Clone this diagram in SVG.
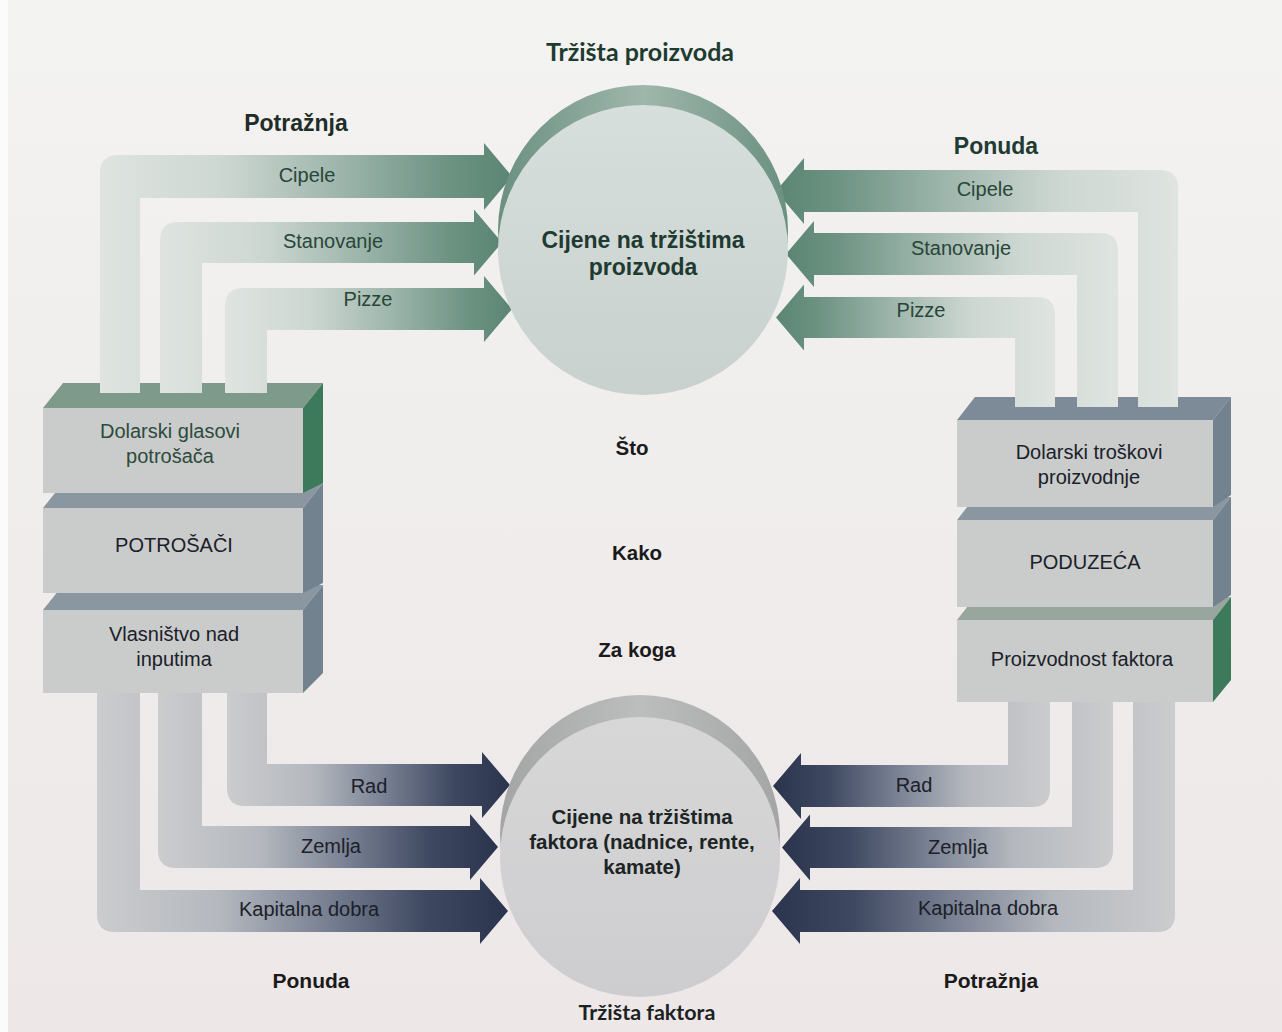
<svg xmlns="http://www.w3.org/2000/svg" width="1282" height="1032" viewBox="0 0 1282 1032">
<defs>
<linearGradient id="bg" x1="0" y1="0" x2="0" y2="1">
<stop offset="0" stop-color="#f3f3f1"/><stop offset="1" stop-color="#ede7e8"/>
</linearGradient>
<linearGradient id="gR" x1="0" y1="0" x2="1" y2="0">
<stop offset="0" stop-color="#dfe4e1"/><stop offset="0.3" stop-color="#cdd7d2"/><stop offset="0.6" stop-color="#9ab3a8"/><stop offset="0.85" stop-color="#6c9282"/><stop offset="1" stop-color="#5b8573"/>
</linearGradient>
<linearGradient id="gL" x1="1" y1="0" x2="0" y2="0">
<stop offset="0" stop-color="#dfe4e1"/><stop offset="0.3" stop-color="#cdd7d2"/><stop offset="0.6" stop-color="#9ab3a8"/><stop offset="0.85" stop-color="#6c9282"/><stop offset="1" stop-color="#5b8573"/>
</linearGradient>
<linearGradient id="nR" x1="0" y1="0" x2="1" y2="0">
<stop offset="0" stop-color="#cbccce"/><stop offset="0.3" stop-color="#b4b8be"/><stop offset="0.55" stop-color="#7a8294"/><stop offset="0.8" stop-color="#3e4860"/><stop offset="1" stop-color="#2a344c"/>
</linearGradient>
<linearGradient id="nL" x1="1" y1="0" x2="0" y2="0">
<stop offset="0" stop-color="#cbccce"/><stop offset="0.3" stop-color="#b4b8be"/><stop offset="0.55" stop-color="#7a8294"/><stop offset="0.8" stop-color="#3e4860"/><stop offset="1" stop-color="#2a344c"/>
</linearGradient>
<linearGradient id="rimG" x1="0" y1="0" x2="1" y2="0">
<stop offset="0" stop-color="#6a9080"/><stop offset="0.5" stop-color="#9fb6ab"/><stop offset="1" stop-color="#6a9080"/>
</linearGradient>
<linearGradient id="faceG" x1="0" y1="0" x2="0" y2="1">
<stop offset="0" stop-color="#d6dfdb"/><stop offset="1" stop-color="#c9d1ce"/>
</linearGradient>
<linearGradient id="rimN" x1="0" y1="0" x2="1" y2="0">
<stop offset="0" stop-color="#a3a6a5"/><stop offset="0.5" stop-color="#bcbebd"/><stop offset="1" stop-color="#a3a6a5"/>
</linearGradient>
<linearGradient id="faceN" x1="0" y1="0" x2="0" y2="1">
<stop offset="0" stop-color="#d7d7d8"/><stop offset="1" stop-color="#cdcdcf"/>
</linearGradient>
</defs>
<style>
.lbl{font-family:"Liberation Sans",Arial,sans-serif;font-size:20px;text-anchor:middle}
.bld{font-family:"Liberation Sans",Arial,sans-serif;font-weight:bold;text-anchor:middle}
.ttl{font-family:Lato,"Liberation Sans",sans-serif;font-weight:bold;font-size:25px;text-anchor:middle}
.gtx{fill:#284638}
.ntx{fill:#1b2029}
.front{fill:#c9cccb}
.topG{fill:#7e9a8b}.sideG{fill:#3d7a5c}
.topB{fill:#8a96a0}.sideB{fill:#72828f}
</style>
<rect x="0" y="0" width="1282" height="1032" fill="url(#bg)"/>
<rect x="0" y="0" width="8" height="1032" fill="#fbfbfb"/>

<g id="potrosaci">
<g id="block-vlasnistvo">
<polygon class="topB" points="43,610 63,585 323,585 303,610"/>
<polygon class="sideB" points="303,610 323,585 323,673 303,693"/>
<rect class="front" x="43" y="610" width="260" height="83"/>
<text class="lbl ntx" x="174" y="641">Vlasništvo nad</text>
<text class="lbl ntx" x="174" y="666">inputima</text>
</g>
<g id="block-potrosaci">
<polygon class="topB" points="43,508 63,483 323,483 303,508"/>
<polygon class="sideB" points="303,508 323,483 323,583 303,593"/>
<rect class="front" x="43" y="508" width="260" height="85"/>
<text class="lbl ntx" x="174" y="552">POTROŠAČI</text>
</g>
<g id="block-dolarski-glasovi">
<polygon class="topG" points="43,408 63,383 323,383 303,408"/>
<polygon class="sideG" points="303,408 323,383 323,483 303,493"/>
<rect class="front" x="43" y="408" width="260" height="85" fill="#c6ccc9"/>
<text class="lbl" fill="#2e4a3c" x="170" y="438">Dolarski glasovi</text>
<text class="lbl" fill="#2e4a3c" x="170" y="463">potrošača</text>
</g>
</g>

<g id="poduzeca">
<g id="block-proizvodnost">
<polygon fill="#98a69e" points="957,620 975,597 1231,597 1213,620"/>
<polygon class="sideG" points="1213,620 1231,597 1231,680 1213,702"/>
<rect class="front" x="957" y="620" width="256" height="82"/>
<text class="lbl ntx" x="1082" y="666">Proizvodnost faktora</text>
</g>
<g id="block-poduzeca">
<polygon class="topB" points="957,520 975,497 1231,497 1213,520"/>
<polygon class="sideB" points="1213,520 1231,497 1231,595 1213,607"/>
<rect class="front" x="957" y="520" width="256" height="87" fill="#ccd0d0"/>
<text class="lbl ntx" x="1085" y="569">PODUZEĆA</text>
</g>
<g id="block-dolarski-troskovi">
<polygon fill="#7d8a97" points="957,420 975,397 1231,397 1213,420"/>
<polygon class="sideB" points="1213,420 1231,397 1231,495 1213,507"/>
<rect class="front" x="957" y="420" width="256" height="87" fill="#ccd1d3"/>
<text class="lbl ntx" x="1089" y="459">Dolarski troškovi</text>
<text class="lbl ntx" x="1089" y="484">proizvodnje</text>
</g>
</g>

<g id="connectors">
<path id="c-cipele-d" fill="url(#gR)" d="M100,393 L100,173 Q100,155 118,155 L484,155 L484,143 L512,176.5 L484,210 L484,198 L140,198 L140,393 Z"/>
<path id="c-stanovanje-d" fill="url(#gR)" d="M160,393 L160,240 Q160,222 178,222 L474,222 L474,209.5 L502,242.5 L474,275.5 L474,263 L202,263 L202,393 Z"/>
<path id="c-pizze-d" fill="url(#gR)" d="M225,393 L225,306 Q225,288 243,288 L484,288 L484,276 L512,309 L484,342 L484,330 L267,330 L267,393 Z"/>
<path id="c-cipele-s" fill="url(#gL)" d="M1178,407 L1178,188 Q1178,170 1160,170 L804,170 L804,158 L776,191 L804,224 L804,212 L1138,212 L1138,407 Z"/>
<path id="c-stanovanje-s" fill="url(#gL)" d="M1118,407 L1118,251 Q1118,233 1100,233 L814,233 L814,221 L786,254 L814,287 L814,275 L1077,275 L1077,407 Z"/>
<path id="c-pizze-s" fill="url(#gL)" d="M1055,407 L1055,315 Q1055,297 1037,297 L804,297 L804,284.5 L776,317.5 L804,350.5 L804,338 L1015,338 L1015,407 Z"/>
<path id="c-rad-s" fill="url(#nR)" d="M267,693 L267,764 L482,764 L482,752 L510,785 L482,818 L482,806 L245,806 Q227,806 227,788 L227,693 Z"/>
<path id="c-zemlja-s" fill="url(#nR)" d="M202,693 L202,826 L470,826 L470,814 L498,847 L470,880 L470,868 L176,868 Q158,868 158,850 L158,693 Z"/>
<path id="c-kapital-s" fill="url(#nR)" d="M140,693 L140,890 L480,890 L480,878 L508,911 L480,944 L480,932 L115,932 Q97,932 97,914 L97,693 Z"/>
<path id="c-rad-d" fill="url(#nL)" d="M1008,702 L1008,765 L801,765 L801,753 L773,786 L801,819 L801,807 L1032,807 Q1050,807 1050,789 L1050,702 Z"/>
<path id="c-zemlja-d" fill="url(#nL)" d="M1072,702 L1072,827 L810,827 L810,814.5 L782,847.5 L810,880.5 L810,868 L1095,868 Q1113,868 1113,850 L1113,702 Z"/>
<path id="c-kapital-d" fill="url(#nL)" d="M1133,702 L1133,890 L800,890 L800,878 L772,911 L800,944 L800,932 L1157,932 Q1175,932 1175,914 L1175,702 Z"/>
<text class="lbl gtx" x="307" y="182">Cipele</text>
<text class="lbl gtx" x="333" y="248">Stanovanje</text>
<text class="lbl gtx" x="368" y="306">Pizze</text>
<text class="lbl gtx" x="985" y="196">Cipele</text>
<text class="lbl gtx" x="961" y="255">Stanovanje</text>
<text class="lbl gtx" x="921" y="317">Pizze</text>
<text class="lbl ntx" x="369" y="793">Rad</text>
<text class="lbl ntx" x="331" y="853">Zemlja</text>
<text class="lbl ntx" x="309" y="916">Kapitalna dobra</text>
<text class="lbl ntx" x="914" y="792">Rad</text>
<text class="lbl ntx" x="958" y="854">Zemlja</text>
<text class="lbl ntx" x="988" y="915">Kapitalna dobra</text>
</g>

<g id="trzista-proizvoda">
<circle cx="643" cy="230" r="145" fill="url(#rimG)"/>
<circle cx="643" cy="250" r="145" fill="url(#faceG)"/>
<text class="bld" font-size="23" fill="#1f3a30" x="643" y="248">Cijene na tržištima</text>
<text class="bld" font-size="23" fill="#1f3a30" x="643" y="275">proizvoda</text>
</g>

<g id="trzista-faktora">
<circle cx="640" cy="835" r="140" fill="url(#rimN)"/>
<circle cx="640" cy="857" r="140" fill="url(#faceN)"/>
<text class="bld" font-size="20.5" fill="#1c2424" x="642" y="824">Cijene na tržištima</text>
<text class="bld" font-size="20.5" fill="#1c2424" x="642" y="849">faktora (nadnice, rente,</text>
<text class="bld" font-size="20.5" fill="#1c2424" x="642" y="874">kamate)</text>
</g>

<g id="labels">
<text class="ttl" fill="#1e3b30" x="640" y="61">Tržišta proizvoda</text>
<text class="bld" font-size="23" fill="#1e2d28" x="296" y="131">Potražnja</text>
<text class="bld" font-size="23" fill="#1f3b33" x="996" y="154">Ponuda</text>
<text class="bld" font-size="20.5" fill="#1a1a1a" x="632" y="455">Što</text>
<text class="bld" font-size="20.5" fill="#1a1a1a" x="637" y="560">Kako</text>
<text class="bld" font-size="20.5" fill="#1a1a1a" x="637" y="657">Za koga</text>
<text class="bld" font-size="21" fill="#1a1a1a" x="311" y="988">Ponuda</text>
<text class="bld" font-size="21" fill="#1a1a1a" x="991" y="988">Potražnja</text>
<text class="ttl" style="font-size:21.5px" fill="#1c2222" x="647" y="1020">Tržišta faktora</text>
</g>
</svg>
